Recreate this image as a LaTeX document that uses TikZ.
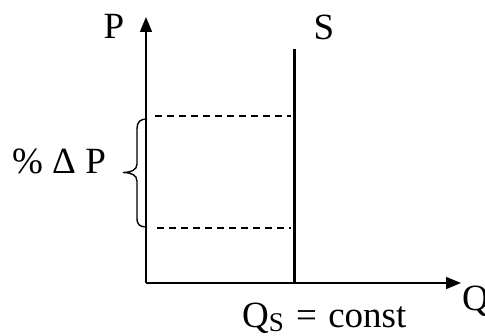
\documentclass[tikz,border=0pt]{standalone}
\usepackage{fontspec}
\setmainfont{Liberation Serif}
\usetikzlibrary{arrows.meta}
\begin{document}
\begin{tikzpicture}[x=1pt,y=-1pt,
  axis/.style={line width=1.5pt,-{Triangle[length=15pt,width=12pt]}},
  supply/.style={line width=3pt},
  guide/.style={line width=1.4pt,dash pattern=on 7pt off 5pt},
  bracestyle/.style={line width=1.4pt},
  lbl/.style={inner sep=0pt,anchor=base,font=\fontsize{37}{42}\selectfont}]
\useasboundingbox (0,0) rectangle (485,336);
\coordinate (O) at (146,283);
\coordinate (Ptop) at (146,17);
\coordinate (Qend) at (461,283);
\coordinate (Stop) at (294,49);
\coordinate (Sbot) at (294,283.7);
\coordinate (D1a) at (155,116);
\coordinate (D1b) at (291,116);
\coordinate (D2a) at (157,228);
\coordinate (D2b) at (291,228);
\draw[axis] (O) -- (Ptop);
\draw[axis] (O) -- (Qend);
\draw[supply] (Sbot) -- (Stop);
\draw[guide] (D1a) -- (D1b);
\draw[guide] (D2a) -- (D2b);
\draw[bracestyle] (147,119) .. controls (140,119) and (137,122) .. (137,129)
  -- (137,164) .. controls (137,170) and (131,172.5) .. (123,172.5)
  .. controls (131,172.5) and (137,175) .. (137,181)
  -- (137,218) .. controls (137,225) and (140,227) .. (147,227);
\node[lbl] (plbl) at (114,39) {P};
\node[lbl] (slbl) at (324,40) {S};
\node[lbl] (dp) at (59,174) {\% Δ P};
\node[lbl,anchor=base west] (qlbl) at (462,311) {Q};
\node[lbl,anchor=base west] (qs) at (242,328) {Q\raisebox{-4pt}{\fontsize{27}{27}\selectfont S}\hspace{3pt} = \hspace{2pt}const};
\end{tikzpicture}
\end{document}
